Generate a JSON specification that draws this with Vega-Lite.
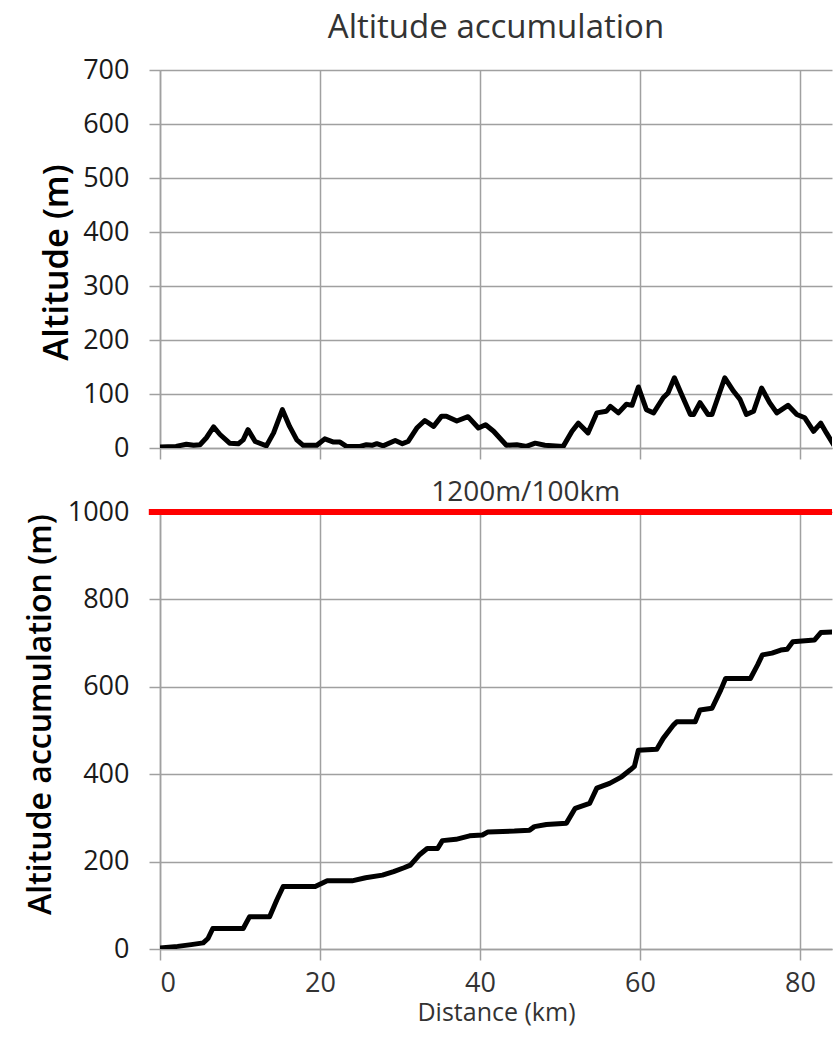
{
  "$schema": "https://vega.github.io/schema/vega-lite/v6.json",
  "padding": {"left": 24, "top": 12, "right": 0, "bottom": 12},
  "background": "white",
  "datasets": {
    "alt": [
      {"km": 0, "m": 2}, {"km": 2, "m": 3}, {"km": 3.3, "m": 7}, {"km": 4.2, "m": 5}, {"km": 5, "m": 6},
      {"km": 5.8, "m": 19}, {"km": 6.7, "m": 39}, {"km": 7.5, "m": 25}, {"km": 8.7, "m": 9}, {"km": 9.8, "m": 8},
      {"km": 10.4, "m": 15}, {"km": 11, "m": 34}, {"km": 11.9, "m": 12}, {"km": 13.3, "m": 4}, {"km": 14.2, "m": 28},
      {"km": 15.3, "m": 71}, {"km": 16.2, "m": 40}, {"km": 17.1, "m": 15}, {"km": 17.9, "m": 5}, {"km": 19.6, "m": 5},
      {"km": 20.6, "m": 17}, {"km": 21.7, "m": 11}, {"km": 22.5, "m": 11}, {"km": 23.3, "m": 3}, {"km": 25, "m": 3},
      {"km": 25.8, "m": 6}, {"km": 26.5, "m": 5}, {"km": 27.1, "m": 8}, {"km": 27.9, "m": 4}, {"km": 29.4, "m": 14},
      {"km": 30.3, "m": 8}, {"km": 31, "m": 12}, {"km": 32.1, "m": 37}, {"km": 33.1, "m": 51}, {"km": 34.2, "m": 40},
      {"km": 35.2, "m": 59}, {"km": 35.8, "m": 59}, {"km": 37.1, "m": 50}, {"km": 38.5, "m": 58}, {"km": 39.8, "m": 37},
      {"km": 40.7, "m": 43}, {"km": 41.7, "m": 31}, {"km": 43.3, "m": 5}, {"km": 44.6, "m": 6}, {"km": 45.8, "m": 3},
      {"km": 46.9, "m": 9}, {"km": 48.1, "m": 5}, {"km": 50.4, "m": 3}, {"km": 51.5, "m": 31}, {"km": 52.3, "m": 46},
      {"km": 53.5, "m": 28}, {"km": 54.6, "m": 65}, {"km": 55.8, "m": 68}, {"km": 56.3, "m": 77}, {"km": 57.3, "m": 65},
      {"km": 58.3, "m": 81}, {"km": 59, "m": 79}, {"km": 59.8, "m": 113}, {"km": 60.8, "m": 71}, {"km": 61.7, "m": 65},
      {"km": 62.9, "m": 93}, {"km": 63.5, "m": 102}, {"km": 64.3, "m": 130}, {"km": 65.2, "m": 99}, {"km": 66.3, "m": 62},
      {"km": 66.7, "m": 62}, {"km": 67.5, "m": 84}, {"km": 68.5, "m": 62}, {"km": 69, "m": 62}, {"km": 70.6, "m": 130},
      {"km": 71.7, "m": 105}, {"km": 72.5, "m": 90}, {"km": 73.3, "m": 62}, {"km": 74.2, "m": 68}, {"km": 75.2, "m": 111},
      {"km": 76.2, "m": 84}, {"km": 77.1, "m": 65}, {"km": 78.5, "m": 79}, {"km": 79.6, "m": 62}, {"km": 80.6, "m": 56},
      {"km": 81.7, "m": 31}, {"km": 82.6, "m": 46}, {"km": 83.3, "m": 28}, {"km": 84.2, "m": 6}
    ],
    "acc": [
      {"km": 0, "m": 2}, {"km": 2.2, "m": 6}, {"km": 3.9, "m": 10}, {"km": 5.4, "m": 14}, {"km": 6, "m": 24},
      {"km": 6.6, "m": 47}, {"km": 10.4, "m": 47}, {"km": 11.2, "m": 74}, {"km": 13.7, "m": 74}, {"km": 14.6, "m": 112},
      {"km": 15.4, "m": 143}, {"km": 19.4, "m": 143}, {"km": 20.9, "m": 156}, {"km": 24, "m": 156}, {"km": 25.7, "m": 163},
      {"km": 27.8, "m": 169}, {"km": 29.2, "m": 177}, {"km": 30.5, "m": 186}, {"km": 31.3, "m": 192}, {"km": 32.4, "m": 215},
      {"km": 33.4, "m": 230}, {"km": 34.7, "m": 230}, {"km": 35.3, "m": 248}, {"km": 37, "m": 251}, {"km": 38.7, "m": 259},
      {"km": 40.3, "m": 261}, {"km": 41, "m": 268}, {"km": 44.3, "m": 270}, {"km": 46.2, "m": 272}, {"km": 46.8, "m": 280},
      {"km": 48.3, "m": 285}, {"km": 50.8, "m": 288}, {"km": 51.9, "m": 322}, {"km": 53.7, "m": 333}, {"km": 54.6, "m": 368},
      {"km": 56.2, "m": 379}, {"km": 57.7, "m": 394}, {"km": 58.8, "m": 410}, {"km": 59.3, "m": 418}, {"km": 59.8, "m": 455},
      {"km": 62.1, "m": 457}, {"km": 62.9, "m": 482}, {"km": 64.2, "m": 513}, {"km": 64.6, "m": 520}, {"km": 66.9, "m": 520},
      {"km": 67.5, "m": 547}, {"km": 69, "m": 551}, {"km": 70.1, "m": 593}, {"km": 70.7, "m": 619}, {"km": 73.8, "m": 619},
      {"km": 74.7, "m": 650}, {"km": 75.3, "m": 673}, {"km": 76.5, "m": 677}, {"km": 77.6, "m": 684}, {"km": 78.4, "m": 686},
      {"km": 79.1, "m": 703}, {"km": 81.8, "m": 707}, {"km": 82.6, "m": 724}, {"km": 84.5, "m": 726}
    ],
    "target": [
      {"from": -1.4, "to": 84, "m": 1000, "label": "1200m/100km", "labelKm": 45.7}
    ]
  },
  "spacing": 18,
  "vconcat": [
    {
      "width": 672,
      "height": 378,
      "title": {"text": "Altitude accumulation", "frame": "group", "anchor": "middle", "fontSize": 33, "fontWeight": "normal", "color": "#333333", "offset": 11},
      "data": {"name": "alt"},
      "mark": {"type": "line", "color": "black", "strokeWidth": 5, "strokeJoin": "round", "strokeCap": "round", "clip": true},
      "encoding": {
        "x": {"field": "km", "type": "quantitative", "scale": {"domain": [0, 84], "nice": false},
              "axis": {"values": [0, 20, 40, 60, 80], "labels": false, "title": null}},
        "y": {"field": "m", "type": "quantitative", "scale": {"domain": [0, 700], "nice": false},
              "axis": {"values": [0, 100, 200, 300, 400, 500, 600, 700], "format": "d", "title": "Altitude (m)", "titleFontSize": 34.5, "titlePadding": 8, "titleY": 192}}
      }
    },
    {
      "width": 672,
      "height": 437,
      "layer": [
        {
          "data": {"name": "acc"},
          "mark": {"type": "line", "color": "black", "strokeWidth": 5, "strokeJoin": "round", "strokeCap": "round", "clip": true},
          "encoding": {
            "x": {"field": "km", "type": "quantitative", "scale": {"domain": [0, 84], "nice": false},
                  "axis": {"values": [0, 20, 40, 60, 80], "format": "d", "title": "Distance (km)", "titleFontSize": 25, "titleFontWeight": "normal", "titleColor": "#333333", "titlePadding": 4, "labelPadding": 10, "labelColor": "#333333"}},
            "y": {"field": "m", "type": "quantitative", "scale": {"domain": [0, 1000], "nice": false},
                  "axis": {"values": [0, 200, 400, 600, 800, 1000], "format": "d", "title": "Altitude accumulation (m)", "titleY": 202}}
          }
        },
        {
          "data": {"name": "target"},
          "mark": {"type": "rule", "color": "#ff0000", "strokeWidth": 6, "clip": false},
          "encoding": {
            "x": {"field": "from", "type": "quantitative"},
            "x2": {"field": "to"},
            "y": {"field": "m", "type": "quantitative"}
          }
        },
        {
          "data": {"name": "target"},
          "mark": {"type": "text", "fontSize": 28, "color": "#333333", "baseline": "alphabetic", "dy": -11, "clip": false},
          "encoding": {
            "x": {"field": "labelKm", "type": "quantitative"},
            "y": {"field": "m", "type": "quantitative"},
            "text": {"field": "label"}
          }
        }
      ]
    }
  ],
  "config": {
    "font": "Open Sans",
    "view": {"stroke": null},
    "axis": {
      "grid": true,
      "gridColor": "#a0a0a0", "gridWidth": 1.5, "gridOpacity": 1,
      "domainColor": "#a0a0a0", "domainWidth": 1.5,
      "tickColor": "#a0a0a0", "tickWidth": 1.5, "tickSize": 11,
      "labelFontSize": 27, "labelColor": "#1a1a1a", "labelPadding": 20,
      "titleFontSize": 32, "titleColor": "#000000", "titleFontWeight": 600, "titlePadding": 10
    }
  }
}
